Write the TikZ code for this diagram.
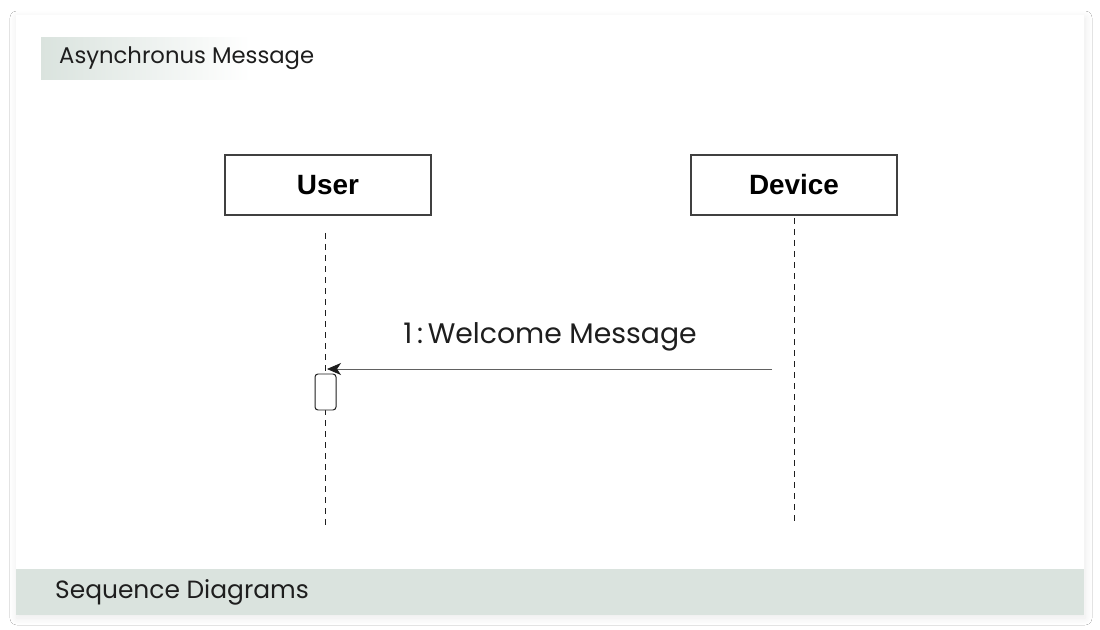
\documentclass[tikz,border=0pt]{standalone}
\usepackage{fontspec}
\setmainfont{Poppins}
\newfontfamily\boxfont{Liberation Sans}
\usetikzlibrary{arrows.meta,shadows.blur}
\definecolor{band}{HTML}{DAE3DE}
\definecolor{ink}{HTML}{1E1E1E}
\tikzset{
  actor/.style={draw=ink!85, line width=1.1pt, minimum width=206bp, minimum height=60bp, fill=white, font=\boxfont\bfseries\fontsize{28}{32}\selectfont, text=black},
  lifeline/.style={draw=ink, line width=0.7pt, dash pattern=on 6bp off 5bp},
  msg/.style={draw=ink!70, line width=0.8pt, -{Stealth[length=14bp,width=12bp,inset=4bp,fill=ink,color=ink]}},
  activation/.style={draw=ink, line width=1pt, rounded corners=3bp, fill=white, minimum width=21bp, minimum height=36bp},
}
\begin{document}
\begin{tikzpicture}[x=1bp,y=-1bp]
\useasboundingbox (0,0) rectangle (1100,630);
\fill[white] (0,0) rectangle (1100,630);
% card with a soft shadow
\node[fill=white, minimum width=1068bp, minimum height=600bp, inner sep=0pt,
      blur shadow={shadow blur steps=10, shadow xshift=1bp, shadow yshift=-3bp, shadow opacity=8, shadow blur radius=7bp}]
  (card) at (550,315) {};
% title band with fade
\shade[left color=band, right color=white] (41,38) rectangle (250,80);
\node[anchor=west, font=\fontsize{22.8}{26}\selectfont, text=ink, inner sep=0pt] (title) at (59,58) {Asynchronus Message};
% footer band
\fill[band] (16,569) rectangle (1084,615);
\node[anchor=west, font=\fontsize{25}{29}\selectfont, text=ink, inner sep=0pt] (footer) at (55,592) {Sequence Diagrams};
% participants
\node[actor] (user) at (328,185) {User};
\node[actor] (device) at (794,185) {Device};
\coordinate (uTop) at (325,233);
\coordinate (uBot) at (325,525);
\coordinate (dTop) at (794,218);
\coordinate (dBot) at (794,525);
\draw[lifeline] (uTop) -- (uBot);
\draw[lifeline] (dTop) -- (dBot);
% activation bar
\node[activation] (act) at (325.5,392) {};
% message
\coordinate (msgStart) at (772,369);
\coordinate (msgEnd) at (327,369);
\draw[msg] (msgStart) -- (msgEnd);
\node[font=\fontsize{28.4}{32}\selectfont, text=ink, inner sep=0pt] (label) at (550,337) {1\,:\,Welcome Message};
\end{tikzpicture}
\end{document}
